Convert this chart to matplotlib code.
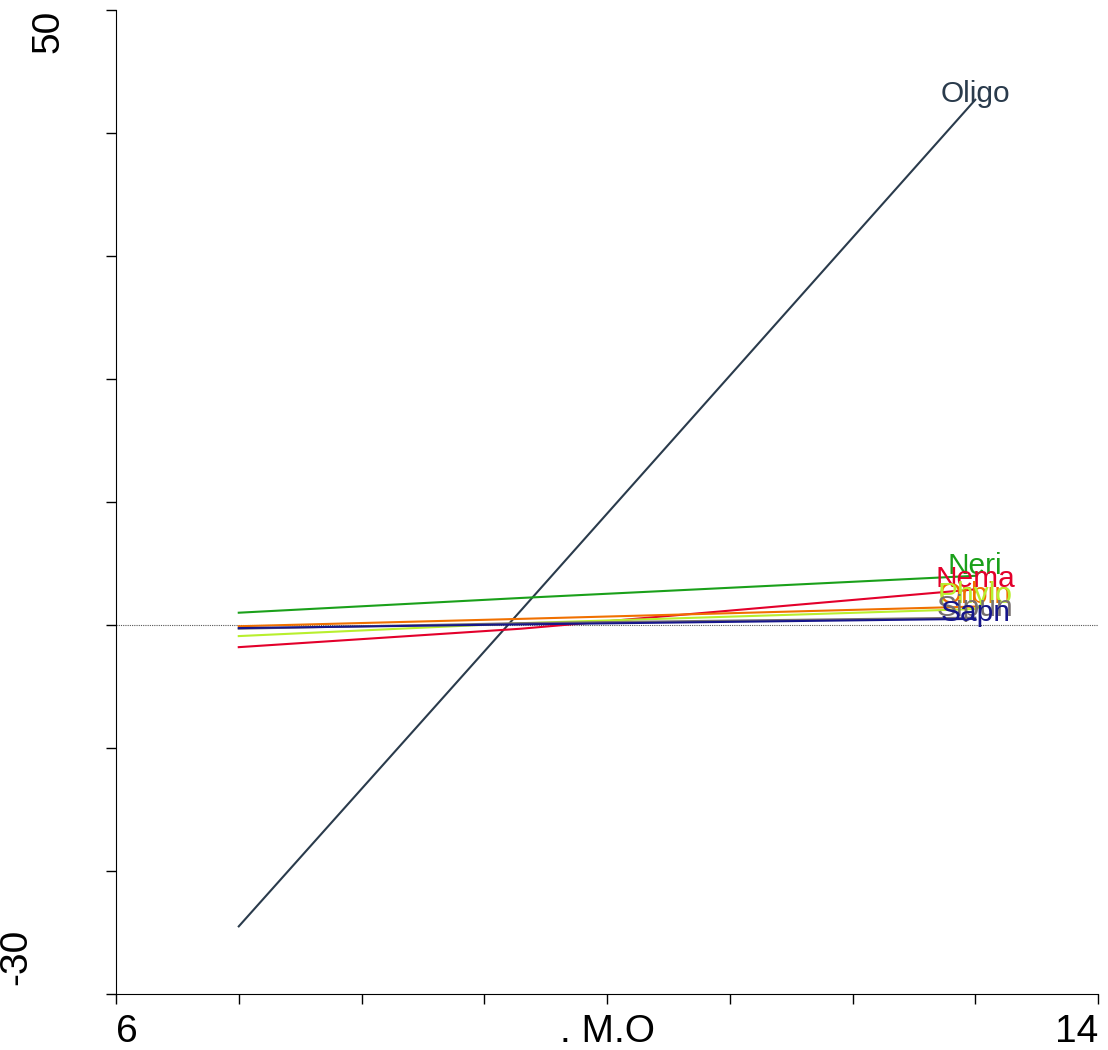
import numpy as np
import matplotlib.pyplot as plt

plt.rcParams['font.family'] = ['Liberation Sans', 'DejaVu Sans']

x = [7, 9.3, 13]
taxa = ['Oligo', 'Neri', 'Nema', 'Orbin', 'Phylo', 'Sipun', 'Sapn']
oligo = [-24.5, 1.2, 42.7]
neri = [1.0, 2.2, 4.0]
nema = [-1.8, -0.3, 2.9]
orbin = [-0.1, 0.5, 1.5]
phylo = [-0.9, 0.15, 1.3]
sipun = [-0.3, 0.15, 0.6]
sapn = [-0.25, 0.05, 0.5]
series = [oligo, neri, nema, orbin, phylo, sipun, sapn]
colors = ['#2a3b4c', '#1aa01a', '#e3002b', '#f07000', '#b8ef2e', '#777070', '#16168a']
label_dy = [0.5, 0.8, 0.8, 0.9, 1.1, 0.8, 0.5]

fig = plt.figure(figsize=(11.08, 10.5), dpi=100)
ax = fig.add_axes([0.1047, 0.0533, 0.8863, 0.9372])

ax.axhline(0, color='#555555', lw=0.8, ls=(0, (1, 1)))
for name, y, c, dy in zip(taxa, series, colors, label_dy):
    ax.plot(x, y, color=c, lw=1.5)
    ax.text(x[-1], y[-1] + dy, name, color=c, fontsize=21.5, ha='center', va='center')

ax.set_xlim(6, 14)
ax.set_ylim(-30, 50)
ax.set_xticks(np.arange(6, 15, 1))
ax.set_xticklabels([''] * 9)
ax.set_yticks(np.arange(-30, 51, 10))
ax.set_yticklabels([''] * 9)
ax.tick_params(direction='out', length=7, width=1)
for s in ['top', 'right']:
    ax.spines[s].set_visible(False)

# axis labels as in the original device output
ax.text(6, -31.6, '6', fontsize=28, ha='left', va='top', clip_on=False)
ax.text(10, -31.6, '. M.O', fontsize=28, ha='center', va='top', clip_on=False)
ax.text(14, -31.6, '14', fontsize=28, ha='right', va='top', clip_on=False)
ax.text(6.0 - 0.55, 50, '50', fontsize=28, rotation=90, ha='center', va='top', clip_on=False)
ax.text(6.0 - 0.81, -29.3, '-30', fontsize=28, rotation=90, ha='center', va='bottom', clip_on=False)

plt.savefig('out.png', dpi=100)
